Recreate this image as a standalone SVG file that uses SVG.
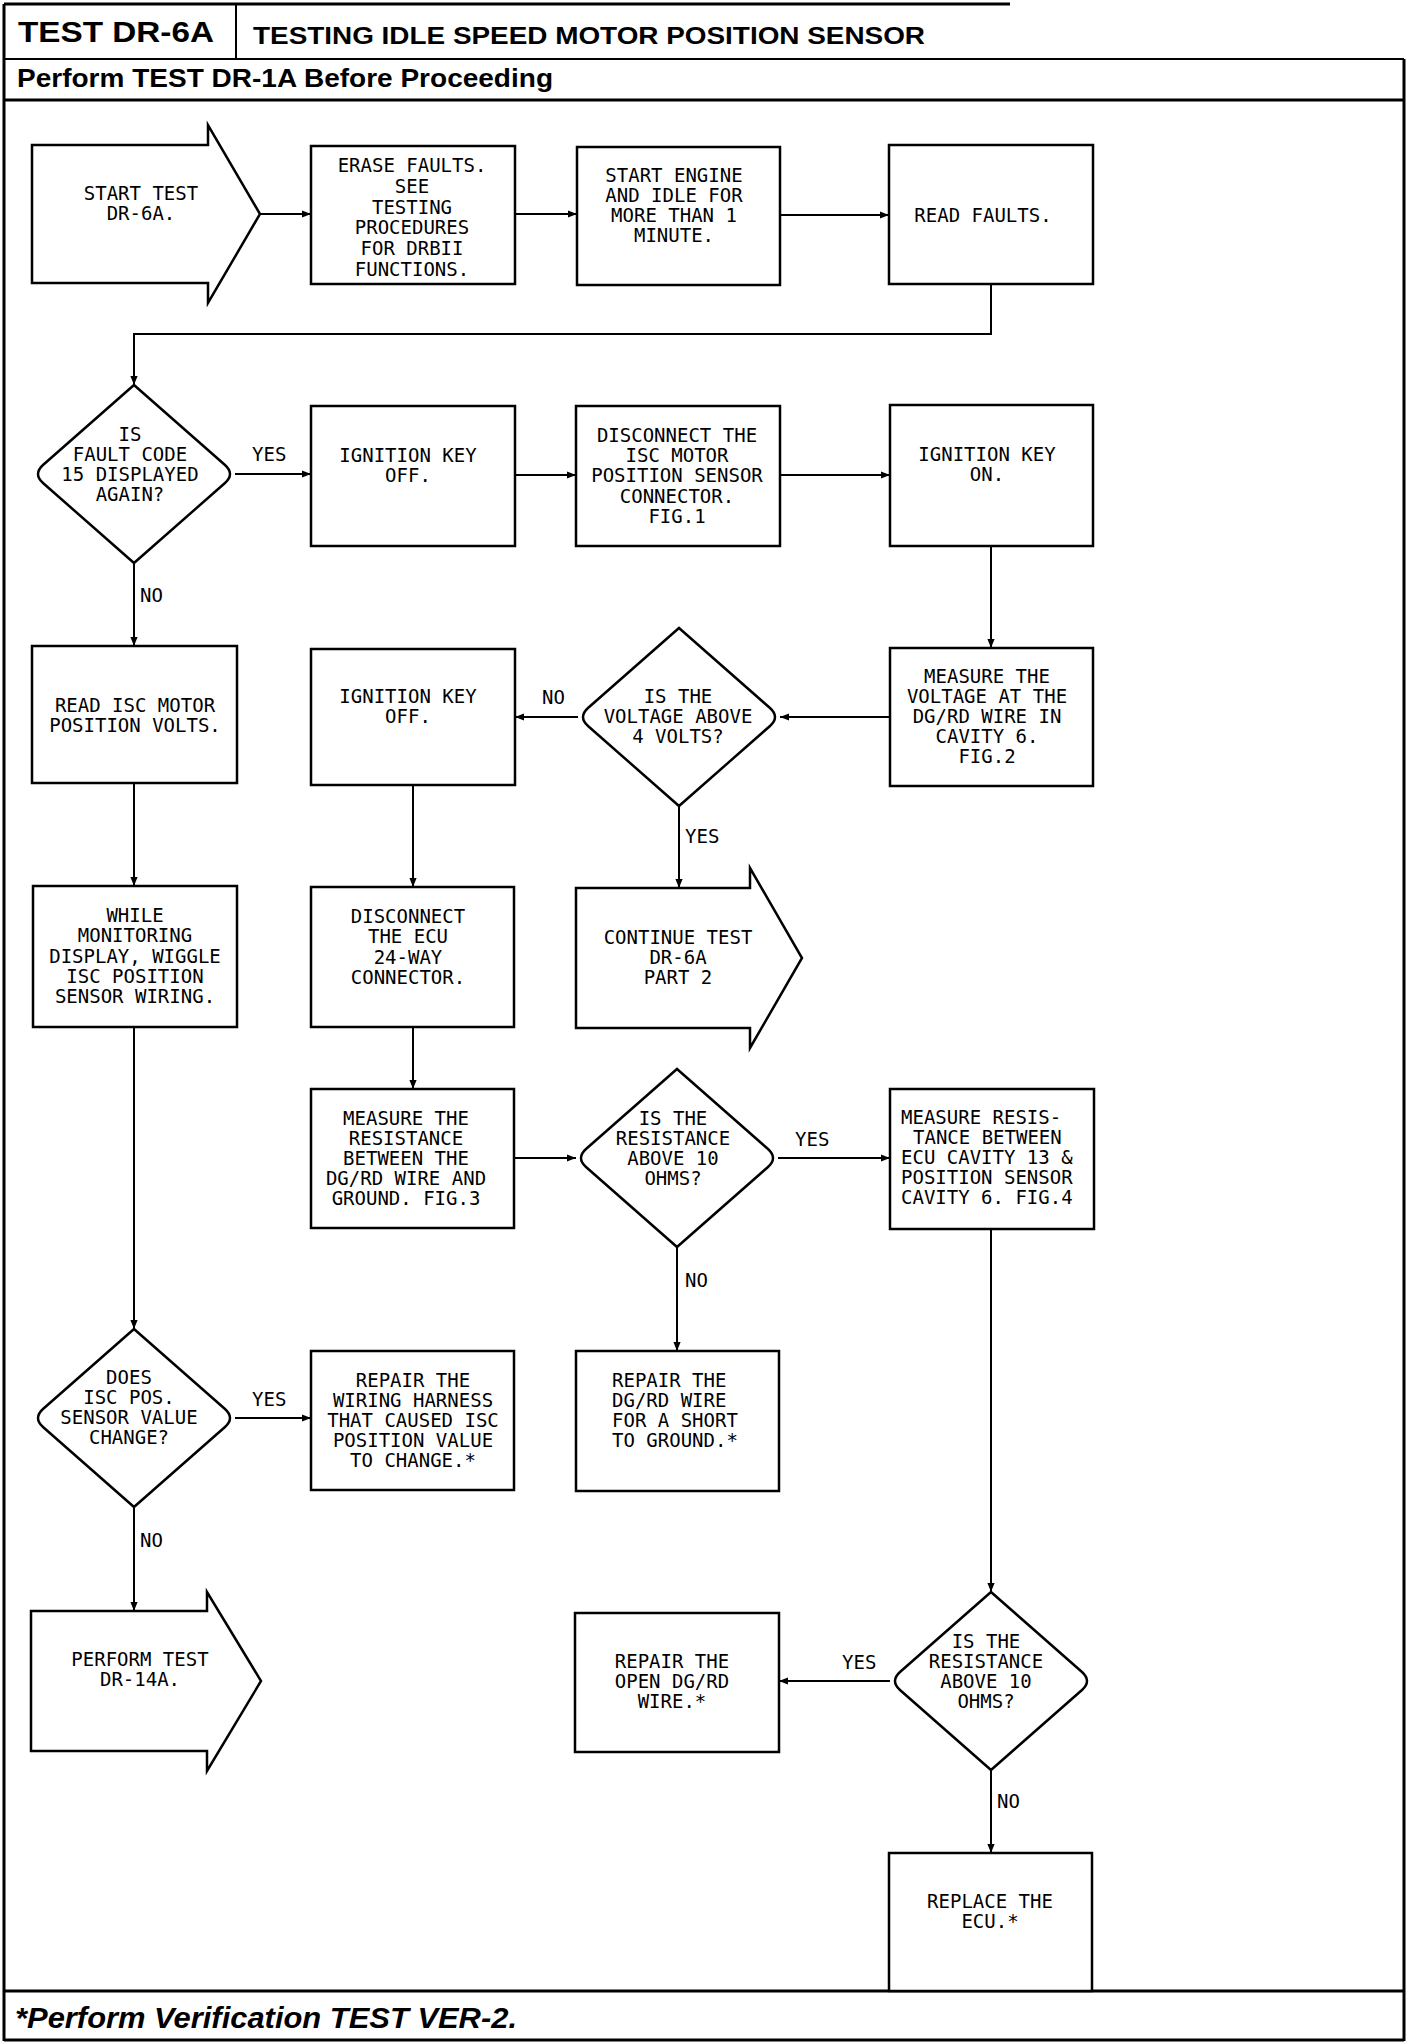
<svg xmlns="http://www.w3.org/2000/svg" width="1408" height="2042" viewBox="0 0 1408 2042">
<style>
.frame{fill:none;stroke:#000;stroke-width:3}
.box{fill:#fff;stroke:#000;stroke-width:2.5}
.con{fill:none;stroke:#000;stroke-width:2}
.t{font-family:"DejaVu Sans Mono","Liberation Mono",monospace;font-size:19px;text-anchor:middle;fill:#000}
.ts{font-family:"DejaVu Sans Mono","Liberation Mono",monospace;font-size:19px;text-anchor:start;fill:#000}
.lbl{font-family:"DejaVu Sans Mono","Liberation Mono",monospace;font-size:19px;fill:#000}
.hd{font-family:"Liberation Sans",Arial,sans-serif;font-weight:bold;fill:#000}
</style>
<defs>
<marker id="ah" viewBox="0 0 10 10" refX="10" refY="5" markerWidth="9" markerHeight="9" markerUnits="userSpaceOnUse" orient="auto"><path d="M0,1 L10,5 L0,9 z" fill="#000"/></marker>
<path id="dia" d="M0,-89 L91,-9 Q101,0 91,9 L0,89 L-91,9 Q-101,0 -91,-9 Z"/>
</defs>
<rect width="1408" height="2042" fill="#fff"/>

<g id="frame">
<line x1="4" y1="4" x2="1010" y2="4" class="frame"/>
<line x1="4" y1="4" x2="4" y2="2041" class="frame"/>
<line x1="1404" y1="59" x2="1404" y2="2041" class="frame"/>
<line x1="4" y1="2040" x2="1404" y2="2040" class="frame"/>
<line x1="236" y1="4" x2="236" y2="59" stroke="#000" stroke-width="2"/>
<line x1="4" y1="59" x2="1404" y2="59" stroke="#000" stroke-width="2"/>
<line x1="4" y1="100" x2="1404" y2="100" class="frame"/>
<line x1="4" y1="1991" x2="1404" y2="1991" class="frame"/>
<text class="hd" x="18" y="42" font-size="29" textLength="196" lengthAdjust="spacingAndGlyphs">TEST DR-6A</text>
<text class="hd" x="253" y="44" font-size="24" textLength="672" lengthAdjust="spacingAndGlyphs">TESTING IDLE SPEED MOTOR POSITION SENSOR</text>
<text class="hd" x="17" y="87" font-size="25" textLength="536" lengthAdjust="spacingAndGlyphs">Perform TEST DR-1A Before Proceeding</text>
<text class="hd" x="15" y="2028" font-size="29" font-style="italic" textLength="502" lengthAdjust="spacingAndGlyphs">*Perform Verification TEST VER-2.</text>
</g>

<g id="connectors">
<line class="con" x1="260" y1="214" x2="311" y2="214" marker-end="url(#ah)"/>
<line class="con" x1="515" y1="214" x2="577" y2="214" marker-end="url(#ah)"/>
<line class="con" x1="780" y1="215" x2="889" y2="215" marker-end="url(#ah)"/>
<polyline class="con" points="991,284 991,334 134,334 134,385" marker-end="url(#ah)"/>
<line class="con" x1="235" y1="474" x2="311" y2="474" marker-end="url(#ah)"/>
<line class="con" x1="515" y1="475" x2="576" y2="475" marker-end="url(#ah)"/>
<line class="con" x1="780" y1="475" x2="890" y2="475" marker-end="url(#ah)"/>
<line class="con" x1="991" y1="546" x2="991" y2="648" marker-end="url(#ah)"/>
<line class="con" x1="890" y1="717" x2="780" y2="717" marker-end="url(#ah)"/>
<line class="con" x1="578" y1="717" x2="515" y2="717" marker-end="url(#ah)"/>
<line class="con" x1="679" y1="806" x2="679" y2="888" marker-end="url(#ah)"/>
<line class="con" x1="134" y1="563" x2="134" y2="646" marker-end="url(#ah)"/>
<line class="con" x1="134" y1="783" x2="134" y2="886" marker-end="url(#ah)"/>
<line class="con" x1="413" y1="785" x2="413" y2="887" marker-end="url(#ah)"/>
<line class="con" x1="413" y1="1027" x2="413" y2="1089" marker-end="url(#ah)"/>
<line class="con" x1="514" y1="1158" x2="576" y2="1158" marker-end="url(#ah)"/>
<line class="con" x1="778" y1="1158" x2="890" y2="1158" marker-end="url(#ah)"/>
<line class="con" x1="677" y1="1247" x2="677" y2="1351" marker-end="url(#ah)"/>
<line class="con" x1="134" y1="1027" x2="134" y2="1329" marker-end="url(#ah)"/>
<line class="con" x1="235" y1="1418" x2="311" y2="1418" marker-end="url(#ah)"/>
<line class="con" x1="134" y1="1507" x2="134" y2="1611" marker-end="url(#ah)"/>
<line class="con" x1="991" y1="1229" x2="991" y2="1592" marker-end="url(#ah)"/>
<line class="con" x1="890" y1="1681" x2="779" y2="1681" marker-end="url(#ah)"/>
<line class="con" x1="991" y1="1770" x2="991" y2="1853" marker-end="url(#ah)"/>
<text class="lbl" x="252" y="461">YES</text>
<text class="lbl" x="140" y="602">NO</text>
<text class="lbl" x="542" y="704">NO</text>
<text class="lbl" x="685" y="843">YES</text>
<text class="lbl" x="795" y="1146">YES</text>
<text class="lbl" x="685" y="1287">NO</text>
<text class="lbl" x="252" y="1406">YES</text>
<text class="lbl" x="140" y="1547">NO</text>
<text class="lbl" x="842" y="1669">YES</text>
<text class="lbl" x="997" y="1808">NO</text>
</g>

<g id="n_start">
<path class="box" d="M32,145 L208,145 L208,125 L260,214 L208,303 L208,283 L32,283 Z"/>
<text class="t"><tspan x="141" y="200">START TEST</tspan><tspan x="141" y="220">DR-6A.</tspan></text>
</g>
<g id="n_erase">
<rect class="box" x="311" y="146" width="204" height="138"/>
<text class="t"><tspan x="412" y="172">ERASE FAULTS.</tspan><tspan x="412" y="193">SEE</tspan><tspan x="412" y="214">TESTING</tspan><tspan x="412" y="234">PROCEDURES</tspan><tspan x="412" y="255">FOR DRBII</tspan><tspan x="412" y="276">FUNCTIONS.</tspan></text>
</g>
<g id="n_engine">
<rect class="box" x="577" y="147" width="203" height="138"/>
<text class="t"><tspan x="674" y="182">START ENGINE</tspan><tspan x="674" y="202">AND IDLE FOR</tspan><tspan x="674" y="222">MORE THAN 1</tspan><tspan x="674" y="242">MINUTE.</tspan></text>
</g>
<g id="n_readfaults">
<rect class="box" x="889" y="145" width="204" height="139"/>
<text class="t" x="983" y="222">READ FAULTS.</text>
</g>
<g id="d_fault15">
<use href="#dia" x="134" y="474" class="box"/>
<text class="t"><tspan x="130" y="441">IS</tspan><tspan x="130" y="461">FAULT CODE</tspan><tspan x="130" y="481">15 DISPLAYED</tspan><tspan x="130" y="501">AGAIN?</tspan></text>
</g>
<g id="n_ignoff1">
<rect class="box" x="311" y="406" width="204" height="140"/>
<text class="t"><tspan x="408" y="462">IGNITION KEY</tspan><tspan x="408" y="482">OFF.</tspan></text>
</g>
<g id="n_disconnect_isc">
<rect class="box" x="576" y="406" width="204" height="140"/>
<text class="t"><tspan x="677" y="442">DISCONNECT THE</tspan><tspan x="677" y="462">ISC MOTOR</tspan><tspan x="677" y="482">POSITION SENSOR</tspan><tspan x="677" y="503">CONNECTOR.</tspan><tspan x="677" y="523">FIG.1</tspan></text>
</g>
<g id="n_ignon">
<rect class="box" x="890" y="405" width="203" height="141"/>
<text class="t"><tspan x="987" y="461">IGNITION KEY</tspan><tspan x="987" y="481">ON.</tspan></text>
</g>
<g id="n_readisc">
<rect class="box" x="32" y="646" width="205" height="137"/>
<text class="t"><tspan x="135" y="712">READ ISC MOTOR</tspan><tspan x="135" y="732">POSITION VOLTS.</tspan></text>
</g>
<g id="n_ignoff2">
<rect class="box" x="311" y="649" width="204" height="136"/>
<text class="t"><tspan x="408" y="703">IGNITION KEY</tspan><tspan x="408" y="723">OFF.</tspan></text>
</g>
<g id="d_voltage">
<use href="#dia" x="679" y="717" class="box"/>
<text class="t"><tspan x="678" y="703">IS THE</tspan><tspan x="678" y="723">VOLTAGE ABOVE</tspan><tspan x="678" y="743">4 VOLTS?</tspan></text>
</g>
<g id="n_measure_volt">
<rect class="box" x="890" y="648" width="203" height="138"/>
<text class="t"><tspan x="987" y="683">MEASURE THE</tspan><tspan x="987" y="703">VOLTAGE AT THE</tspan><tspan x="987" y="723">DG/RD WIRE IN</tspan><tspan x="987" y="743">CAVITY 6.</tspan><tspan x="987" y="763">FIG.2</tspan></text>
</g>
<g id="n_while">
<rect class="box" x="33" y="886" width="204" height="141"/>
<text class="t"><tspan x="135" y="922">WHILE</tspan><tspan x="135" y="942">MONITORING</tspan><tspan x="135" y="963">DISPLAY, WIGGLE</tspan><tspan x="135" y="983">ISC POSITION</tspan><tspan x="135" y="1003">SENSOR WIRING.</tspan></text>
</g>
<g id="n_disconnect_ecu">
<rect class="box" x="311" y="887" width="203" height="140"/>
<text class="t"><tspan x="408" y="923">DISCONNECT</tspan><tspan x="408" y="943">THE ECU</tspan><tspan x="408" y="964">24-WAY</tspan><tspan x="408" y="984">CONNECTOR.</tspan></text>
</g>
<g id="n_continue">
<path class="box" d="M576,888 L750,888 L750,868 L802,958 L750,1048 L750,1028 L576,1028 Z"/>
<text class="t"><tspan x="678" y="944">CONTINUE TEST</tspan><tspan x="678" y="964">DR-6A</tspan><tspan x="678" y="984">PART 2</tspan></text>
</g>
<g id="n_measure_res">
<rect class="box" x="311" y="1089" width="203" height="139"/>
<text class="t"><tspan x="406" y="1125">MEASURE THE</tspan><tspan x="406" y="1145">RESISTANCE</tspan><tspan x="406" y="1165">BETWEEN THE</tspan><tspan x="406" y="1185">DG/RD WIRE AND</tspan><tspan x="406" y="1205">GROUND. FIG.3</tspan></text>
</g>
<g id="d_res1">
<use href="#dia" x="677" y="1158" class="box"/>
<text class="t"><tspan x="673" y="1125">IS THE</tspan><tspan x="673" y="1145">RESISTANCE</tspan><tspan x="673" y="1165">ABOVE 10</tspan><tspan x="673" y="1185">OHMS?</tspan></text>
</g>
<g id="n_measure_resis">
<rect class="box" x="890" y="1089" width="204" height="140"/>
<text class="ts"><tspan x="901" y="1124">MEASURE RESIS-</tspan><tspan x="913" y="1144">TANCE BETWEEN</tspan><tspan x="901" y="1164">ECU CAVITY 13 &amp;</tspan><tspan x="901" y="1184">POSITION SENSOR</tspan><tspan x="901" y="1204">CAVITY 6. FIG.4</tspan></text>
</g>
<g id="d_iscpos">
<use href="#dia" x="134" y="1418" class="box"/>
<text class="t"><tspan x="129" y="1384">DOES</tspan><tspan x="129" y="1404">ISC POS.</tspan><tspan x="129" y="1424">SENSOR VALUE</tspan><tspan x="129" y="1444">CHANGE?</tspan></text>
</g>
<g id="n_repair_harness">
<rect class="box" x="311" y="1351" width="203" height="139"/>
<text class="t"><tspan x="413" y="1387">REPAIR THE</tspan><tspan x="413" y="1407">WIRING HARNESS</tspan><tspan x="413" y="1427">THAT CAUSED ISC</tspan><tspan x="413" y="1447">POSITION VALUE</tspan><tspan x="413" y="1467">TO CHANGE.*</tspan></text>
</g>
<g id="n_repair_short">
<rect class="box" x="576" y="1351" width="203" height="140"/>
<text class="ts"><tspan x="612" y="1387">REPAIR THE</tspan><tspan x="612" y="1407">DG/RD WIRE</tspan><tspan x="612" y="1427">FOR A SHORT</tspan><tspan x="612" y="1447">TO GROUND.*</tspan></text>
</g>
<g id="n_perform">
<path class="box" d="M31,1611 L207,1611 L207,1592 L261,1681 L207,1771 L207,1751 L31,1751 Z"/>
<text class="t"><tspan x="140" y="1666">PERFORM TEST</tspan><tspan x="140" y="1686">DR-14A.</tspan></text>
</g>
<g id="n_repair_open">
<rect class="box" x="575" y="1613" width="204" height="139"/>
<text class="t"><tspan x="672" y="1668">REPAIR THE</tspan><tspan x="672" y="1688">OPEN DG/RD</tspan><tspan x="672" y="1708">WIRE.*</tspan></text>
</g>
<g id="d_res2">
<use href="#dia" x="991" y="1681" class="box"/>
<text class="t"><tspan x="986" y="1648">IS THE</tspan><tspan x="986" y="1668">RESISTANCE</tspan><tspan x="986" y="1688">ABOVE 10</tspan><tspan x="986" y="1708">OHMS?</tspan></text>
</g>
<g id="n_replace">
<rect class="box" x="889" y="1853" width="203" height="138"/>
<text class="t"><tspan x="990" y="1908">REPLACE THE</tspan><tspan x="990" y="1928">ECU.*</tspan></text>
</g>
</svg>
